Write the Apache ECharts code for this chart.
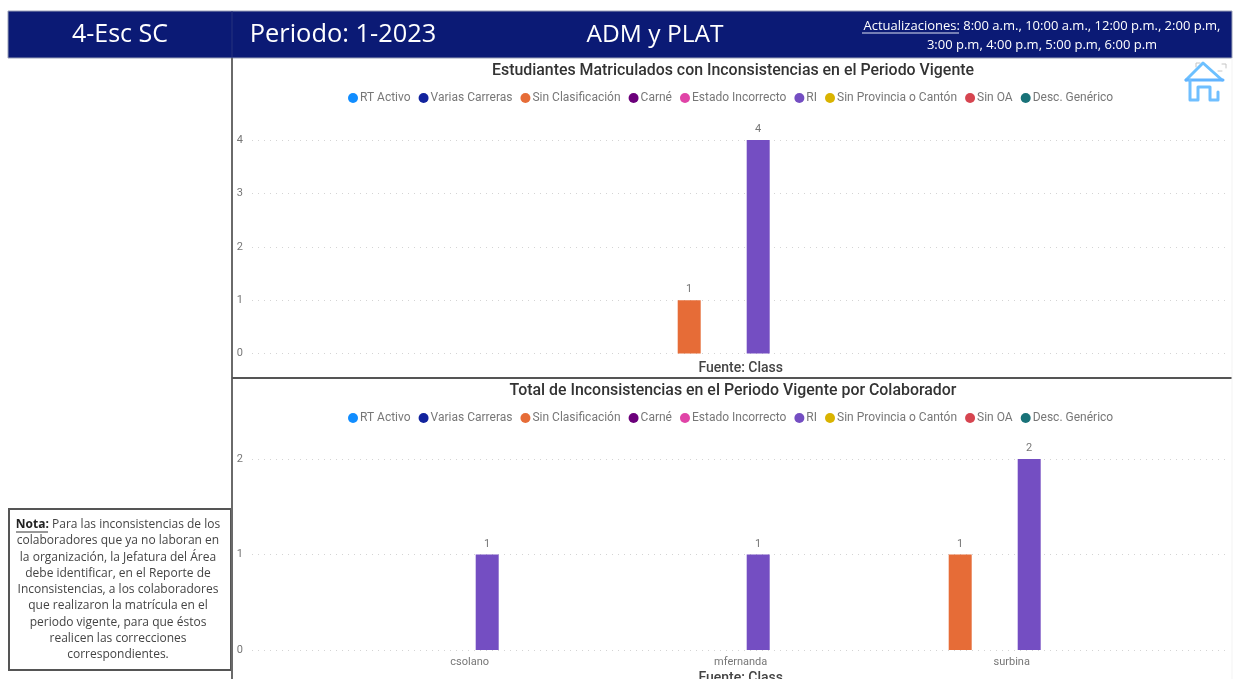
<!DOCTYPE html>
<html><head><meta charset="utf-8">
<style>html,body{margin:0;padding:0;background:#fff;overflow:hidden}#c{width:1237px;height:679px}</style>
<script src="https://cdn.jsdelivr.net/npm/echarts@6/dist/echarts.min.js"></script>
</head><body><div id="c"></div>
<script>
const seriesNames = ['RT Activo','Varias Carreras','Sin Clasificación','Carné','Estado Incorrecto','RI','Sin Provincia o Cantón','Sin OA','Desc. Genérico'];
const seriesColors = ['#118DFF','#12239E','#E66C37','#6B007B','#E044A7','#744EC2','#D9B300','#D64550','#197278'];
const topCategories = [''];
const topValues = [[null],[null],[1],[null],[null],[4],[null],[null],[null]];
const bottomCategories = ['csolano','mfernanda','surbina'];
const bottomSinClasificacion = [null,null,1];
const bottomRI = [1,1,2];
const topTitle = 'Estudiantes Matriculados con Inconsistencias en el Periodo Vigente';
const bottomTitle = 'Total de Inconsistencias en el Periodo Vigente por Colaborador';
const sourceNote = 'Fuente: Class';
const noteLines = ['{b|Nota:} Para las inconsistencias de los','colaboradores que ya no laboran en','la organización, la Jefatura del Área','debe identificar, en el Reporte de','Inconsistencias, a los colaboradores','que realizaron la matrícula en el','periodo vigente, para que éstos','realicen las correcciones','correspondientes.'];

const bottomValues = seriesNames.map((n,i)=> i===2 ? bottomSinClasificacion : i===5 ? bottomRI : [null,null,null]);
const font = 'Roboto';
const navy = '#0B1A75';
const chart = echarts.init(document.getElementById('c'));

function legend(top){
  return {top, left:343, icon:'circle', itemWidth:10, itemHeight:10, itemGap:8, selectedMode:false,
    data:seriesNames, textStyle:{fontFamily:font,fontSize:12,color:'#777', padding:[0,0,0,-3]}};
}
function bars(values, axis){
  return seriesNames.map((name,i)=>({
    name, type:'bar', data:values[i], xAxisIndex:axis, yAxisIndex:axis, barWidth:23, barGap:0,
    itemStyle:{color:seriesColors[i]}, animation:false,
    label:{show:true, position:'top', distance:5, color:'#777', fontFamily:font, fontSize:11}
  }));
}
function guideY(idx, max){
  return {gridIndex:idx, type:'value', min:0, max, interval:1,
    axisLine:{show:false}, axisTick:{show:false},
    axisLabel:{color:'#777',fontFamily:font,fontSize:11,margin:9},
    splitLine:{show:true,lineStyle:{color:'#d4d4d4',width:1,type:[1,5]}}};
}
function hiddenY(idx, max){ return {gridIndex:idx, type:'value', min:0, max, interval:1, show:false}; }
function guideX(idx){ return {gridIndex:idx, type:'category', data:[''], show:false}; }
function barX(idx, data, gap){
  return {gridIndex:idx, type:'category', data, axisLine:{show:false}, axisTick:{show:false},
    axisLabel:{color:'#777',fontFamily:font,fontSize:11,margin:7,padding:[0,0,0,11]},
    name:sourceNote, nameLocation:'middle', nameGap:gap,
    nameTextStyle:{color:'#444',fontFamily:font,fontWeight:500,fontSize:14,padding:[0,0,0,11]}};
}
function txt(x,y,text,size,extra){
  return {type:'text', x, y, silent:true, z:10, style:Object.assign({text, fill:'#fff', font:size+'px "Open Sans"', align:'center', verticalAlign:'middle'},extra||{})};
}
function ln(x1,y1,x2,y2,stroke,w){
  return {type:'line', silent:true, z:9, shape:{x1,y1,x2,y2}, style:{stroke,lineWidth:w}};
}
function poly(points,stroke,w){
  return {type:'polyline', silent:true, z:12, shape:{points}, style:{stroke,lineWidth:w,fill:null,lineCap:'round',lineJoin:'round'}};
}

const graphics = [
  {type:'rect', silent:true, z:8, shape:{x:8,y:11,width:1224,height:47}, style:{fill:navy,stroke:'#9aa0b8',lineWidth:1}},
  ln(232,11,232,58,'#26337f',1),
  ln(232,58,232,679,'#6a6a6a',2),
  ln(232,378,1232,378,'#555',2),
  ln(1232,58,1232,679,'#f3f3f3',1),
  txt(120,35,'4-Esc SC',25),
  txt(343,35,'Periodo: 1-2023',25.4),
  txt(655,35,'ADM y PLAT',24.5),
  txt(1042,26.5,'Actualizaciones: 8:00 a.m., 10:00 a.m., 12:00 p.m., 2:00 p.m,',13),
  txt(1042,45.5,'3:00 p.m, 4:00 p.m, 5:00 p.m, 6:00 p.m',13),
  ln(862,33,959,33,'#dfe3f5',1),
  {type:'rect', silent:true, z:8, shape:{x:9,y:509,width:222,height:161}, style:{fill:'#fff',stroke:'#555',lineWidth:2}},
  ln(16,532,48,532,'#333',1),
  poly([[1186,80],[1203,63],[1222,80]],'#6cc0ff',3),
  poly([[1186,80],[1223,80]],'#62b4ff',3),
  poly([[1190,80],[1190,100],[1198,100],[1198,87],[1210,87],[1210,100],[1218,100],[1218,92]],'#70bfff',3),
  poly([[1196,67],[1196,63],[1200,63]],'#c4c4c4',1),
  poly([[1222,64],[1226,64],[1226,68]],'#c4c4c4',1),
  poly([[1218,71],[1222,71]],'#c4c4c4',1)
];
noteLines.forEach((line,i)=>{
  graphics.push(txt(118,524.5+i*16.3,line,12,{fill:'#444',rich:{b:{fill:'#222',font:'bold 12px "Open Sans"'}}}));
});

function gridBox(left,width,top,height){ return {left,width,top,height,outerBoundsMode:'none'}; }

chart.setOption({
  animation:false,
  backgroundColor:'#fff',
  title:[
    {text:topTitle,left:728,top:58,textAlign:'center',textStyle:{fontFamily:font,fontSize:15.9,fontWeight:500,color:'#333'}},
    {text:bottomTitle,left:728,top:378,textAlign:'center',textStyle:{fontFamily:font,fontSize:15.9,fontWeight:500,color:'#333'}}
  ],
  legend:[legend(87),legend(407)],
  grid:[
    gridBox(252,974,140,213.5),
    gridBox(599.7,271,140,213.5),
    gridBox(252,974,459,191),
    gridBox(328.7,813,459,191)
  ],
  xAxis:[guideX(0),barX(1,topCategories,8),guideX(2),barX(3,bottomCategories,21)],
  yAxis:[guideY(0,4),hiddenY(1,4),guideY(2,2),hiddenY(3,2)],
  series:[...bars(topValues,1),...bars(bottomValues,3)],
  graphic:graphics
});
</script></body></html>
